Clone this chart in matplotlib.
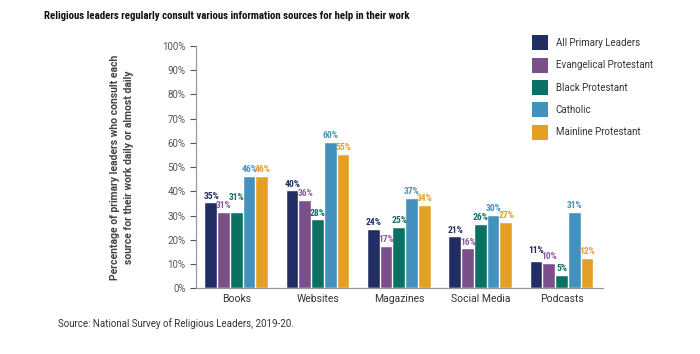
import numpy as np
import matplotlib.pyplot as plt
from matplotlib.patches import Patch

categories = ['Books', 'Websites', 'Magazines', 'Social Media', 'Podcasts']
groups = ['All Primary Leaders', 'Evangelical Protestant', 'Black Protestant',
          'Catholic', 'Mainline Protestant']
all_primary = [35, 40, 24, 21, 11]
evangelical = [31, 36, 17, 16, 10]
black_prot = [31, 28, 25, 26, 5]
catholic = [46, 60, 37, 30, 31]
mainline = [46, 55, 34, 27, 12]
series = [all_primary, evangelical, black_prot, catholic, mainline]

bar_colors = ['#222d64', '#7b4f8a', '#0b7165', '#4392bd', '#e3a024']
text_colors = ['#222d64', '#8a5c9c', '#0b7165', '#4392bd', '#e3a024']

plt.rcParams['font.family'] = ['Roboto', 'DejaVu Sans']
cond = ['Roboto Condensed', 'Barlow Semi Condensed', 'DejaVu Sans']

# label nudges (points) where the labels would collide: (category, series)
nudge = {(0, 2): 6, (4, 0): 3}

fig = plt.figure(figsize=(7, 3.54), dpi=100)
ax = fig.add_axes([0.28, 0.186, 0.581, 0.684])

x = np.arange(len(categories))
w = 0.157
for i, vals in enumerate(series):
    pos = x + (i - 2) * w
    ax.bar(pos, vals, width=w - 0.012, color=bar_colors[i], edgecolor='white', linewidth=0.3)
    for j, (px, v) in enumerate(zip(pos, vals)):
        ax.annotate(f'{v}%', (px, v), xytext=(0, 2 + nudge.get((j, i), 0)),
                    textcoords='offset points', ha='center', va='bottom',
                    fontsize=6.8, fontweight='bold', color=text_colors[i], family=cond)

ax.set_xlim(-0.5, 4.5)
ax.set_ylim(0, 100)
ax.set_yticks(range(0, 101, 10))
ax.set_yticklabels([f'{t}%' for t in range(0, 101, 10)])
ax.set_xticks(x)
ax.set_xticklabels(categories)
ax.tick_params(axis='y', labelsize=7, colors='#555555', length=4, width=0.8)
ax.tick_params(axis='x', labelsize=7.5, colors='#333333', length=0, pad=4)
for s in ['top', 'right']:
    ax.spines[s].set_visible(False)
for s in ['left', 'bottom']:
    ax.spines[s].set_color('#999999')
    ax.spines[s].set_linewidth(0.9)

ax.set_ylabel('Percentage of primary leaders who consult each\nsource for their work daily or almost daily',
              fontsize=7.5, fontweight='bold', color='#444444', labelpad=20, linespacing=1.6)

title = fig.text(0.063, 0.955,
                 'Religious leaders regularly consult various information sources for help in their work',
                 fontsize=10, fontweight='bold', color='#111111', va='center', family=cond)
# fit the title to the width it has in the original (about 370 px)
fig.canvas.draw()
tw = title.get_window_extent().width
title.set_fontsize(10 * 370 / tw)

handles = [Patch(facecolor=c, label=g) for c, g in zip(bar_colors, groups)]
fig.legend(handles=handles, loc='upper left', bbox_to_anchor=(0.748, 0.925), frameon=False,
           fontsize=7, handlelength=1.6, handleheight=2.0, labelspacing=0.75,
           handletextpad=0.8, labelcolor='#333333')

fig.text(0.083, 0.085, 'Source: National Survey of Religious Leaders, 2019-20.',
         fontsize=7, color='#333333', va='center')

fig.savefig('out.png', dpi=100)
